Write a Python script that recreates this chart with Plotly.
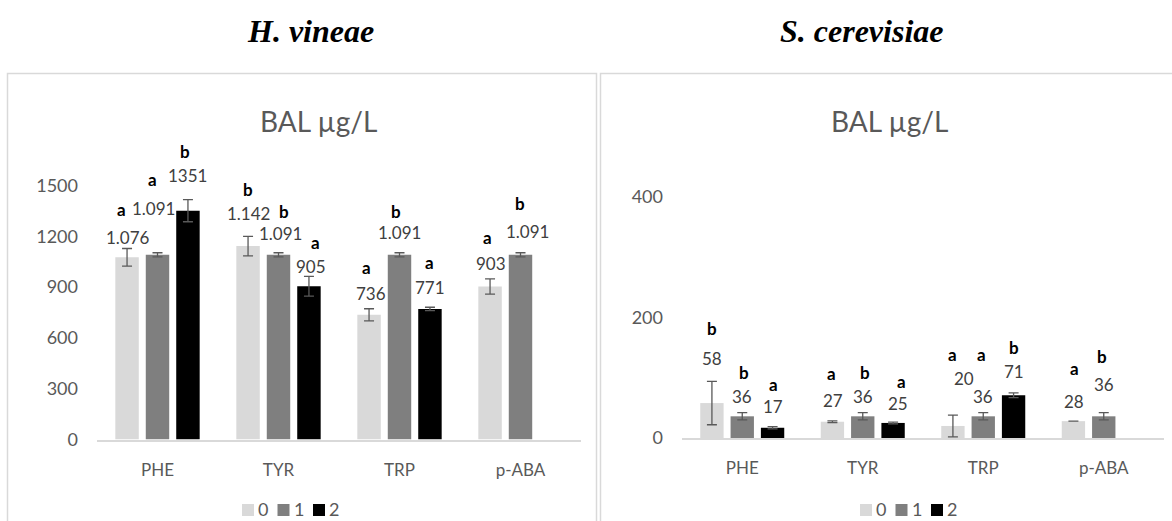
import plotly.graph_objects as go

# ---------------- data ----------------
categories = ["PHE", "TYR", "TRP", "p-ABA"]
series_names = ["0", "1", "2"]

# H. vineae
hv_0 = [1076, 1142, 736, 903]
hv_1 = [1091, 1091, 1091, 1091]
hv_2 = [1351, 905, 771, None]
hv_err_0 = [52, 58, 36, 45]
hv_err_1 = [12, 12, 12, 12]
hv_err_2 = [65, 58, 10, None]
hv_labels_0 = ["1.076", "1.142", "736", "903"]
hv_labels_1 = ["1.091", "1.091", "1.091", "1.091"]
hv_labels_2 = ["1351", "905", "771", None]
hv_letters_0 = ["a", "b", "a", "a"]
hv_letters_1 = ["a", "b", "b", "b"]
hv_letters_2 = ["b", "a", "a", None]

# S. cerevisiae
sc_0 = [58, 27, 20, 28]
sc_1 = [36, 36, 36, 36]
sc_2 = [17, 25, 71, None]
sc_err_0 = [36, 1.5, 18, 0]
sc_err_1 = [6, 6, 6, 6]
sc_err_2 = [2, 1.5, 4, None]
sc_labels_0 = ["58", "27", "20", "28"]
sc_labels_1 = ["36", "36", "36", "36"]
sc_labels_2 = ["17", "25", "71", None]
sc_letters_0 = ["b", "a", "a", "a"]
sc_letters_1 = ["b", "b", "a", "b"]
sc_letters_2 = ["a", "a", "b", None]

hv_ticks = [0, 300, 600, 900, 1200, 1500]
sc_ticks = [0, 200, 400]

# ---------------- style / layout ----------------
W, H = 1172, 521
colors = ["#d9d9d9", "#7f7f7f", "#000000"]
BARGAP = 0.245
BARGROUPGAP = 0.23
FONT = "Lato"
TICK_COLOR = "#595959"
LABEL_COLOR = "#404040"

# manual label offsets (dx px, up px) relative to bar centre / bar top
hv_label_off = [[(0.5, 20), (0, 33), (1.5, 21), (1, 23)],
                [(-4.5, 46), (2, 21), (0, 22), (7, 23)],
                [(-0.5, 35), (2.5, 20), (0.5, 21), None]]
hv_letter_off = [[(-5.5, 48), (-0.5, 57), (-3, 47), (-2.5, 49)],
                 [(-5, 75), (5, 43), (-3.5, 43), (-1, 51.5)],
                 [(-2.5, 59), (6.5, 44), (0, 46), None]]
sc_label_off = [[(0, 45), (0.5, 21), (10.7, 47), (0.5, 19.5)],
                [(0, 20), (0, 20), (0, 20), (0.5, 32)],
                [(0.5, 21), (4.5, 19), (0.8, 23.5), None]]
sc_letter_off = [[(0, 75), (-1, 48), (-0.5, 71), (1.5, 53)],
                 [(2, 44), (2.5, 44), (-2, 62), (-1.5, 60)],
                 [(0.5, 43), (8, 41.5), (0.8, 47.5), None]]


def px(x):
    return x / W


def py(y):
    return (H - y) / H


fig = go.Figure()

panels = [
    dict(vals=[hv_0, hv_1, hv_2], errs=[hv_err_0, hv_err_1, hv_err_2],
         labels=[hv_labels_0, hv_labels_1, hv_labels_2],
         letters=[hv_letters_0, hv_letters_1, hv_letters_2],
         label_off=hv_label_off, letter_off=hv_letter_off, xa="x", ya="y"),
    dict(vals=[sc_0, sc_1, sc_2], errs=[sc_err_0, sc_err_1, sc_err_2],
         labels=[sc_labels_0, sc_labels_1, sc_labels_2],
         letters=[sc_letters_0, sc_letters_1, sc_letters_2],
         label_off=sc_label_off, letter_off=sc_letter_off, xa="x2", ya="y2"),
]

slot = (1 - BARGAP) / 3
annotations = []
for p in panels:
    for j in range(3):
        fig.add_trace(go.Bar(
            x=categories, y=p["vals"][j], name=series_names[j],
            marker=dict(color=colors[j], line=dict(width=0)),
            error_y=dict(type="data", array=p["errs"][j], visible=True,
                         color="#595959", thickness=1.3, width=5),
            xaxis=p["xa"], yaxis=p["ya"], showlegend=False,
            hoverinfo="skip"))
        for i, v in enumerate(p["vals"][j]):
            if v is None:
                continue
            xpos = i + (j - 1) * slot
            dx, up = p["label_off"][j][i]
            annotations.append(dict(
                x=xpos, y=v, xref=p["xa"], yref=p["ya"], text=p["labels"][j][i],
                showarrow=False, xshift=dx, yshift=up, xanchor="center", yanchor="middle",
                borderpad=0, font=dict(family=FONT, size=17, color=LABEL_COLOR)))
            dx, up = p["letter_off"][j][i]
            annotations.append(dict(
                x=xpos, y=v, xref=p["xa"], yref=p["ya"], text="<b>%s</b>" % p["letters"][j][i],
                showarrow=False, xshift=dx, yshift=up, xanchor="center", yanchor="middle",
                borderpad=0, font=dict(family=FONT, size=17, color="#000000")))

# headings and chart titles
for txt, cx in [("H. vineae", 310), ("S. cerevisiae", 862)]:
    annotations.append(dict(x=px(cx), y=py(31), xref="paper", yref="paper",
                            text="<b><i>%s</i></b>" % txt, showarrow=False,
                            xanchor="center", yanchor="middle",
                            font=dict(family="Liberation Serif", size=32, color="#000000")))
for cx in [318, 889]:
    annotations.append(dict(x=px(cx), y=py(121), xref="paper", yref="paper",
                            text="BAL µg/L", showarrow=False,
                            xanchor="center", yanchor="middle",
                            font=dict(family=FONT, size=28, color=TICK_COLOR)))

# legends (drawn manually, one per panel)
shapes = []
legend_starts = [242, 860]
for lx in legend_starts:
    for j in range(3):
        x0 = lx + j * 35.5
        shapes.append(dict(type="rect", xref="paper", yref="paper",
                           x0=px(x0), x1=px(x0 + 12), y0=py(516), y1=py(504),
                           fillcolor=colors[j], line=dict(width=0)))
        annotations.append(dict(x=px(x0 + 15), y=py(509), xref="paper", yref="paper",
                                text=series_names[j], showarrow=False,
                                xanchor="left", yanchor="middle", borderpad=0,
                                font=dict(family=FONT, size=18, color=TICK_COLOR)))

# chart-area borders
for x0, x1 in [(7.5, 596.5), (600.5, 1200)]:
    shapes.append(dict(type="rect", xref="paper", yref="paper",
                       x0=px(x0), x1=px(x1), y0=py(540), y1=py(73.5),
                       line=dict(color="#d9d9d9", width=1.5), fillcolor="rgba(0,0,0,0)",
                       layer="below"))

axis_x = dict(type="category", range=[-0.5, 3.5], showline=True, linecolor="#d9d9d9",
              linewidth=1.5, ticks="", showgrid=False, zeroline=False, automargin=False,
              tickfont=dict(family=FONT, size=17, color=TICK_COLOR),
              ticklabelstandoff=14, fixedrange=True)
axis_y = dict(showline=False, showgrid=False, zeroline=False, ticks="", automargin=False,
              tickfont=dict(family=FONT, size=18, color=TICK_COLOR),
              ticklabelstandoff=18, fixedrange=True)

fig.update_layout(
    width=W, height=H, autosize=False,
    margin=dict(l=0, r=0, t=0, b=0, pad=0, autoexpand=False),
    paper_bgcolor="white", plot_bgcolor="white",
    barmode="group", bargap=BARGAP, bargroupgap=BARGROUPGAP,
    xaxis=dict(axis_x, domain=[px(97), px(581)], anchor="y"),
    yaxis=dict(axis_y, domain=[py(439.5), py(185.5)], range=[0, 1500],
               tickvals=hv_ticks, anchor="x"),
    xaxis2=dict(axis_x, domain=[px(682), px(1164)], anchor="y2"),
    yaxis2=dict(axis_y, domain=[py(438), py(197)], range=[0, 400],
                tickvals=sc_ticks, anchor="x2"),
    annotations=annotations, shapes=shapes, showlegend=False,
)

fig.write_html("out.html")
